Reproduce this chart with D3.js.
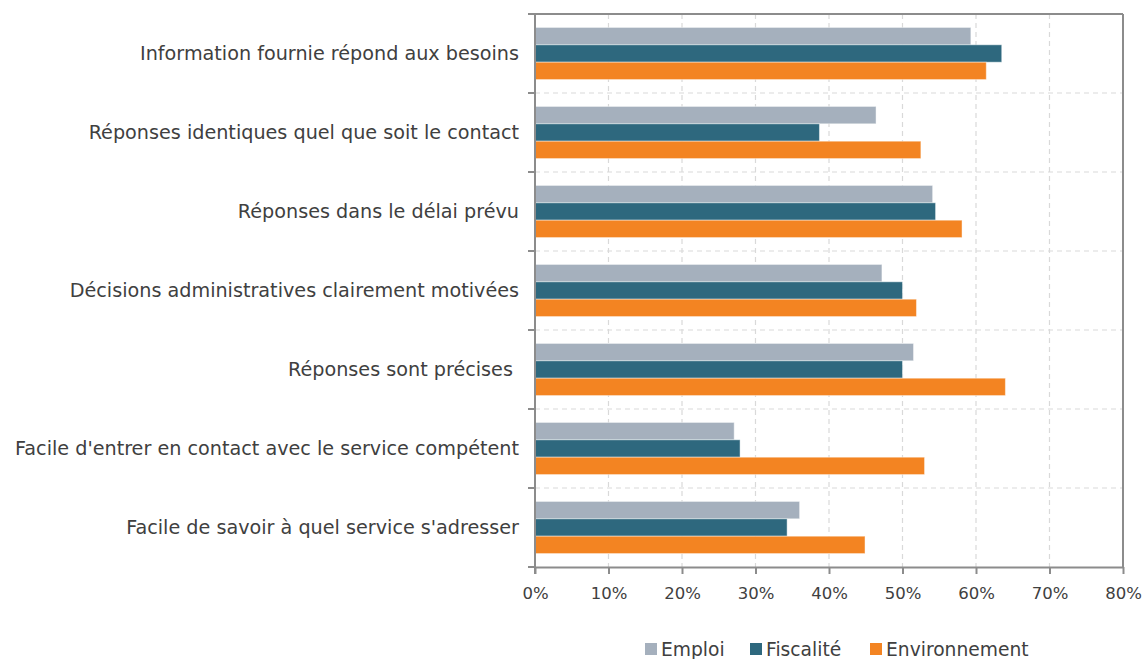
<!DOCTYPE html>
<html>
<head>
<meta charset="utf-8">
<script src="https://cdn.jsdelivr.net/npm/d3@7"></script>
<style>
  html, body { margin: 0; padding: 0; background: #fff; }
  svg { display: block; font-family: "DejaVu Sans", sans-serif; }
</style>
</head>
<body>
<svg id="chart" width="1143" height="659"></svg>
<script>
// Categories, top to bottom
const categories = [
  "Information fournie répond aux besoins",
  "Réponses identiques quel que soit le contact",
  "Réponses dans le délai prévu",
  "Décisions administratives clairement motivées",
  "Réponses sont précises ",
  "Facile d'entrer en contact avec le service compétent",
  "Facile de savoir à quel service s'adresser"
];

const seriesNames = ["Emploi", "Fiscalité", "Environnement"];

// Share of satisfied respondents (%), one array per series
const emploi        = [59.3, 46.4, 54.1, 47.2, 51.5, 27.1, 36.0];
const fiscalite     = [63.5, 38.7, 54.5, 50.0, 50.0, 27.9, 34.3];
const environnement = [61.4, 52.5, 58.1, 51.9, 64.0, 53.0, 44.9];

const xTicks = [0, 10, 20, 30, 40, 50, 60, 70, 80];

const colors = ["#a5b0bd", "#2e687e", "#f38422"];
const seriesValues = [emploi, fiscalite, environnement];

const svg = d3.select("#chart");
const margin = { left: 535, top: 14, right: 20, bottom: 92 };
const W = 1143, H = 659;
const plotW = W - margin.left - margin.right;
const plotH = H - margin.top - margin.bottom;

const x = d3.scaleLinear().domain([0, 80]).range([0, plotW]);
const y = d3.scaleBand().domain(categories).range([0, plotH])
  .paddingInner(0.34).paddingOuter(0.17);
const ySub = d3.scaleBand().domain(seriesNames).range([0, y.bandwidth()]);

const g = svg.append("g").attr("transform", `translate(${margin.left},${margin.top})`);

const gridColor = "#d9d9d9";
const axisColor = "#8c8c8c";
const textColor = "#404040";
const font = "DejaVu Sans, sans-serif";

// Band boundaries (between categories)
const step = y.step();
const boundaries = d3.range(categories.length + 1).map(i => i * step);

// Vertical dashed grid
g.append("g").selectAll("line").data(xTicks.slice(1))
  .join("line")
  .attr("x1", d => x(d)).attr("x2", d => x(d))
  .attr("y1", 0).attr("y2", plotH)
  .attr("stroke", gridColor).attr("stroke-width", 1.2)
  .attr("stroke-dasharray", "5,4");

// Horizontal dashed grid
g.append("g").selectAll("line").data(boundaries.slice(1, -1))
  .join("line")
  .attr("x1", 0).attr("x2", plotW)
  .attr("y1", d => d).attr("y2", d => d)
  .attr("stroke", gridColor).attr("stroke-width", 1.2)
  .attr("stroke-dasharray", "5,4");

// Bars
const groups = g.append("g").selectAll("g").data(categories)
  .join("g")
  .attr("transform", d => `translate(0,${y(d)})`);

groups.selectAll("rect")
  .data((c, i) => seriesNames.map((s, j) => ({ s, v: seriesValues[j][i], color: colors[j] })))
  .join("rect")
  .attr("x", 0)
  .attr("y", d => ySub(d.s))
  .attr("width", d => x(d.v))
  .attr("height", ySub.bandwidth())
  .attr("fill", d => d.color)
  .attr("stroke", "rgba(255,255,255,0.45)")
  .attr("stroke-width", 1);

// Frame: top and right border
g.append("line").attr("x1", 0).attr("x2", plotW).attr("y1", 0).attr("y2", 0)
  .attr("stroke", axisColor).attr("stroke-width", 2);
g.append("line").attr("x1", plotW).attr("x2", plotW).attr("y1", 0).attr("y2", plotH)
  .attr("stroke", axisColor).attr("stroke-width", 2);

// Bottom axis
const xAxis = g.append("g").attr("transform", `translate(0,${plotH})`)
  .call(d3.axisBottom(x).tickValues(xTicks).tickFormat(d => d + "%").tickSize(7).tickSizeOuter(0));
xAxis.select(".domain").attr("stroke", axisColor).attr("stroke-width", 2);
xAxis.selectAll(".tick line").attr("stroke", axisColor).attr("stroke-width", 2);
xAxis.selectAll(".tick text")
  .attr("fill", textColor).attr("font-size", 16.5)
  .attr("font-family", font)
  .attr("y", 26).attr("dy", "0.35em");

// Left axis with ticks on band boundaries
g.append("line").attr("x1", 0).attr("x2", 0).attr("y1", -1).attr("y2", plotH + 7)
  .attr("stroke", axisColor).attr("stroke-width", 2);
g.append("g").selectAll("line").data(boundaries)
  .join("line")
  .attr("x1", -7).attr("x2", 0)
  .attr("y1", d => d).attr("y2", d => d)
  .attr("stroke", axisColor).attr("stroke-width", 2);

// Category labels
g.append("g").selectAll("text").data(categories)
  .join("text")
  .attr("x", -16)
  .attr("y", d => y(d) + y.bandwidth() / 2)
  .attr("dy", "0.35em")
  .attr("text-anchor", "end")
  .attr("fill", textColor)
  .attr("font-size", 19.2)
  .attr("font-family", font)
  .style("white-space", "pre")
  .text(d => d);

// Legend
const legendX = [645, 750, 870];
const legend = svg.append("g").attr("transform", "translate(0,649)");
const items = legend.selectAll("g").data(seriesNames).join("g")
  .attr("transform", (d, i) => `translate(${legendX[i]},0)`);
items.append("rect").attr("x", 0).attr("y", -6).attr("width", 12).attr("height", 12)
  .attr("fill", (d, i) => colors[i]);
items.append("text").attr("x", 16).attr("y", 0).attr("dy", "0.36em")
  .attr("fill", textColor).attr("font-size", 18.7)
  .attr("font-family", font)
  .text(d => d);
</script>
</body>
</html>
